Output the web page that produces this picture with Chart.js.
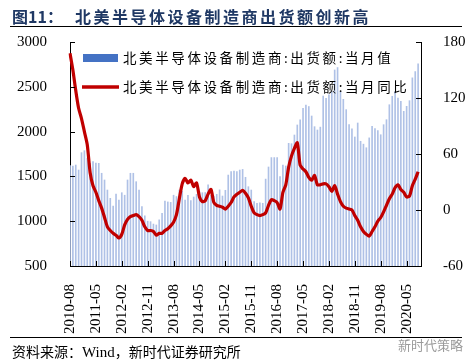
<!DOCTYPE html>
<html>
<head>
<meta charset="utf-8">
<script src="https://cdn.jsdelivr.net/npm/chart.js@4.4.0/dist/chart.umd.min.js"></script>
<style>
  html, body { margin: 0; padding: 0; background: #fff; }
  #wrap { position: relative; width: 469px; height: 364px; overflow: hidden; }
  #chart { position: absolute; left: 0; top: 0; }
  .title { position: absolute; top: 4px; font: bold 16px "Noto Sans CJK SC"; color: #1F3864; white-space: nowrap; }
  .rule { position: absolute; left: 10px; width: 452px; height: 0; border-top: 1.3px solid #000; }
  .source { position: absolute; left: 12px; top: 341px; font: 14px "Noto Sans CJK SC"; color: #000; white-space: nowrap; }
  .source b { font: 15px "Liberation Serif"; }
  .mark { position: absolute; left: 398px; top: 335px; font: 13px "Noto Sans CJK SC"; color: #9a9a9a; }
</style>
</head>
<body>
<div id="wrap">
  <canvas id="chart" width="469" height="364"></canvas>
  <div class="title" style="left:12px">图11：</div>
  <div class="title" style="left:75px; letter-spacing:2.5px">北美半导体设备制造商出货额创新高</div>
  <div class="rule" style="top:26px"></div>
  <div class="rule" style="top:337px"></div>
  <div class="source">资料来源：<b>Wind</b>，新时代证券研究所</div>
  <div class="mark">新时代策略</div>
</div>
<script>
/* ============ データ ============ */
const startYear = 2010;
const startMonth = 8;
const monthCount = 123; // 2010-08 〜 2020-10（最後の月はデータなし）

// 出货额:当月值（百万美元）
const shipments = [
  1620, 1616, 1627, 1571, 1765, 1787, 1705, 1646, 1665, 1650,
  1646, 1535, 1460, 1348, 1255, 1170, 1304, 1237, 1318, 1290,
  1460, 1535, 1535, 1441, 1348, 1162, 1060, 1000, 995, 968,
  958, 1015, 1088, 1225, 1215, 1210, 1290, 1275, 1348, 1335,
  1237, 1290, 1230, 1270, 1300, 1330, 1318, 1320, 1405, 1290,
  1280, 1300, 1350, 1281, 1345, 1515, 1553, 1560, 1555, 1571,
  1578, 1490, 1385, 1348, 1218, 1200, 1205, 1200, 1470, 1605,
  1710, 1710, 1710, 1497, 1627, 1616, 1869, 1865, 1962, 2074,
  2130, 2260, 2297, 2280, 2174, 2055, 2018, 2050, 2397, 2370,
  2410, 2445, 2688, 2715, 2450, 2360, 2245, 2077, 2030, 1940,
  2096, 1892, 1860, 1820, 1930, 2060, 2033, 2010, 1965, 2077,
  2133, 2300, 2394, 2450, 2375, 2338, 2226, 2282, 2345, 2600,
  2670, 2755
];

// 出货额:当月同比（%）
const yoy = [
  168, 150, 128, 109, 98, 84, 70, 40, 26, 19,
  10, 2, -8, -18, -22, -25, -27, -30, -26, -16,
  -10, -7, -6, -5, -7, -11, -18, -22, -22, -23,
  -27, -25, -25, -22, -20, -17, -13, -5, 12, 28,
  34, 29, 32, 25, 29, 14, 9, 10, 17, 22,
  8, 5, 4, 3, 1, 4, 8, 14, 17, 19,
  21, 18, 13, 4, -3, -5, -6, -5, -3, 5,
  11, 10, 8, 1, 19, 27, 46, 58, 66, 72,
  48, 44, 41, 35, 32, 37, 27, 27, 28, 28,
  25, 20, 26, 17, 9, 4, 2, 1, 0, -6,
  -11, -18, -23, -26, -28, -23, -18, -12, -8, -2,
  5, 12, 17, 24, 27, 22, 19, 14, 15, 26,
  33, 41
];

const seriesNames = ["北美半导体设备制造商:出货额:当月值", "北美半导体设备制造商:出货额:当月同比"];
const leftTicks = [500, 1000, 1500, 2000, 2500, 3000];
const rightTicks = [-60, 0, 60, 120, 180];
const labelEvery = 9;

/* -------- 月ラベル -------- */
const months = [];
for (let k = 0; k < monthCount; k++) {
  const m = startMonth - 1 + k;
  const y = startYear + Math.floor(m / 12);
  months.push(`${y}-${String((m % 12) + 1).padStart(2, "0")}`);
}

/* -------- 内向きの目盛り＋凡例 -------- */
const innerTicks = {
  id: "innerTicks",
  afterDraw(chart) {
    const { ctx, chartArea: a, scales } = chart;
    ctx.save();
    ctx.strokeStyle = "#000";
    ctx.lineWidth = 1;
    ctx.beginPath();
    scales.y1.ticks.forEach((t) => {
      const y = Math.round(scales.y1.getPixelForValue(t.value)) + 0.5;
      ctx.moveTo(a.left, y);
      ctx.lineTo(a.left + 5, y);
    });
    scales.y2.ticks.forEach((t) => {
      const y = Math.round(scales.y2.getPixelForValue(t.value)) + 0.5;
      ctx.moveTo(a.right, y);
      ctx.lineTo(a.right - 5, y);
    });
    months.forEach((m, i) => {
      if (i % labelEvery !== 0) return;
      const x = Math.round(scales.x.getPixelForValue(i)) + 0.5;
      ctx.moveTo(x, a.bottom);
      ctx.lineTo(x, a.bottom - 5);
    });
    ctx.stroke();

    // 凡例
    ctx.fillStyle = "#4472C4";
    ctx.fillRect(83, 54, 35, 8);
    ctx.beginPath();
    ctx.strokeStyle = "#C00000";
    ctx.lineWidth = 3.5;
    ctx.moveTo(82, 87);
    ctx.lineTo(119, 87);
    ctx.stroke();
    ctx.fillStyle = "#000";
    ctx.font = '13.5px "Noto Sans CJK SC"';
    ctx.letterSpacing = "2.6px";
    ctx.textBaseline = "middle";
    ctx.fillText(seriesNames[0], 123, 58);
    ctx.fillText(seriesNames[1], 123, 87);
    ctx.restore();
  }
};

const axisFont = { family: "Liberation Serif", size: 15 };

new Chart(document.getElementById("chart"), {
  data: {
    labels: months,
    datasets: [
      {
        type: "line",
        label: seriesNames[1],
        data: yoy,
        yAxisID: "y2",
        borderColor: "#C00000",
        borderWidth: 3.2,
        pointRadius: 0,
        tension: 0.25,
        order: 1
      },
      {
        type: "bar",
        label: seriesNames[0],
        data: shipments,
        yAxisID: "y1",
        backgroundColor: "#AFC1E6",
        barThickness: 1,
        order: 2
      }
    ]
  },
  options: {
    responsive: false,
    animation: false,
    devicePixelRatio: 1,
    layout: { padding: { top: 42, left: 0, right: 0, bottom: 0 } },
    plugins: { legend: { display: false }, tooltip: { enabled: false } },
    scales: {
      x: {
        type: "category",
        offset: false,
        grid: { display: false },
        border: { display: true, color: "#000", width: 1 },
        ticks: {
          autoSkip: false,
          minRotation: 90,
          maxRotation: 90,
          padding: 10,
          color: "#000",
          font: axisFont,
          callback: (v, i) => (i % labelEvery === 0 ? months[i] : null)
        },
        afterFit: (s) => { s.height = 98; }
      },
      y1: {
        position: "left",
        min: leftTicks[0],
        max: leftTicks[leftTicks.length - 1],
        grid: { display: false },
        border: { display: true, color: "#000", width: 1 },
        ticks: { stepSize: 500, padding: 15, color: "#000", font: axisFont, callback: (v) => String(v) },
        afterFit: (s) => { s.width = 70; }
      },
      y2: {
        position: "right",
        min: rightTicks[0],
        max: rightTicks[rightTicks.length - 1],
        grid: { display: false },
        border: { display: true, color: "#000", width: 1 },
        ticks: { stepSize: 60, padding: 14, color: "#000", font: axisFont, callback: (v) => String(v) },
        afterFit: (s) => { s.width = 48; }
      }
    }
  },
  plugins: [innerTicks]
});
</script>
</body>
</html>
